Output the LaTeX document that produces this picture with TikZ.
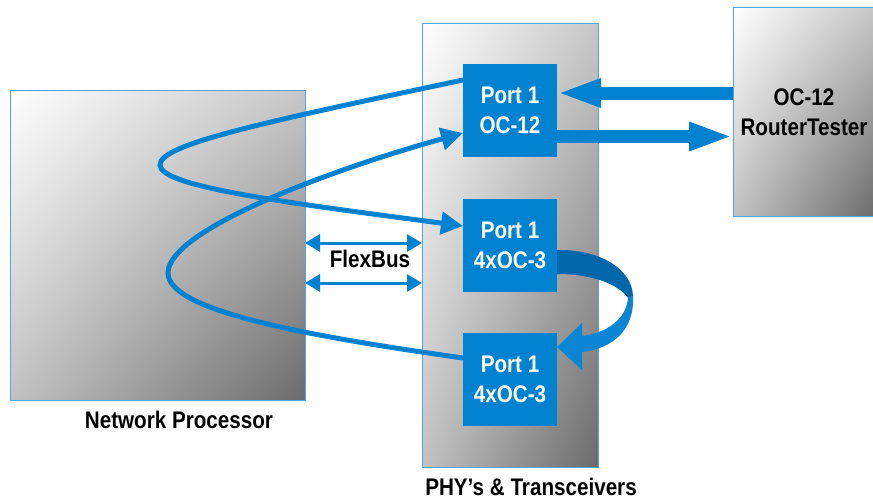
\documentclass[tikz,border=0pt]{standalone}
\usepackage{fontspec}
\newfontfamily\lblfont[FakeStretch=0.86]{Liberation Sans}
\usetikzlibrary{arrows.meta,calc,shadings}
\definecolor{portblue}{RGB}{0,130,208}
\definecolor{ribbondark}{RGB}{0,104,170}
\definecolor{ribbonlight}{RGB}{10,134,212}
\definecolor{edgeblue}{RGB}{80,165,225}
\begin{document}
\begin{tikzpicture}[x=1pt,y=-1pt,
  greybox/.style={draw=edgeblue, line width=1pt, inner sep=0pt, outer sep=0pt,
    shade, upper left=white, upper right=black!22, lower left=black!24, lower right=black!58},
  portbox/.style={fill=portblue, inner sep=0pt, outer sep=0pt,
    minimum width=94pt, minimum height=93pt, text=white, align=center,
    font=\lblfont\bfseries\fontsize{24pt}{30pt}\selectfont},
  caption/.style={font=\lblfont\bfseries\fontsize{24pt}{30pt}\selectfont, align=center, inner sep=0pt},
  loopline/.style={draw=portblue, line width=5pt, -{Triangle[length=22pt,width=22pt]}},
  fatline/.style={draw=portblue, line width=13pt, -{Triangle[length=44pt,width=26pt]}},
  busline/.style={draw=portblue, line width=3pt, {Triangle[length=15pt,width=17pt]}-{Triangle[length=15pt,width=17pt]}}
]
\useasboundingbox (0,0) rectangle (873,501);

% shaded enclosures
\node[greybox, minimum width=295pt, minimum height=310pt] (np) at (157.5,245) {};
\node[greybox, minimum width=176pt, minimum height=444pt] (phy) at (510,245) {};
\node[greybox, minimum width=142pt, minimum height=209pt, caption] (tester) at (804,112) {OC-12\\RouterTester};

% ports
\node[portbox] (p1) at (510,110.5) {Port 1\\OC-12};
\node[portbox] (p2) at (510,245.5) {Port 1\\4xOC-3};
\node[portbox] (p3) at (510,379.5) {Port 1\\4xOC-3};

% captions
\node[caption, anchor=base] (nplbl) at (179,428) {Network Processor};
\node[caption, anchor=base] (phylbl) at (531,495) {PHY’s \& Transceivers};
\node[caption, anchor=base] (buslbl) at (370,267) {FlexBus};

% FlexBus links
\draw[busline] ([yshift=2pt]np.east) -- ([yshift=2pt]np.east -| phy.west);
\draw[busline] ([yshift=-38pt]np.east) -- ([yshift=-38pt]np.east -| phy.west);

% loops through the network processor
\draw[loopline] ([yshift=30.5pt]p1.west) .. controls (250,125) and (160,145) .. (160,165)
  .. controls (160,187) and (290,203) .. ([yshift=19.5pt]p2.west);
\draw[loopline] ([yshift=21.5pt]p3.west) .. controls (300,335) and (168,310) .. (168,273)
  .. controls (168,230) and (330,170) .. ([yshift=-22.5pt]p1.west);

% links to the tester
\draw[fatline] ([yshift=19pt]tester.west) -- ([yshift=19pt]tester.west -| p1.east);
\draw[fatline] ([yshift=-26pt]p1.east) -- ([yshift=-26pt]p1.east -| tester.west);

% loopback ribbon between the two 4xOC-3 ports
\fill[ribbondark] (557,250) .. controls (598,249) and (632,268) .. (633,296)
  -- (628,298) .. controls (618,284) and (592,274) .. (557,274) -- cycle;
\fill[ribbonlight] (633,296) .. controls (635,330) and (612,349) .. (582,352)
  -- (582,370) -- (557,347) -- (582,323) -- (582,336)
  .. controls (606,333) and (626,320) .. (628,298) -- cycle;
\end{tikzpicture}
\end{document}
